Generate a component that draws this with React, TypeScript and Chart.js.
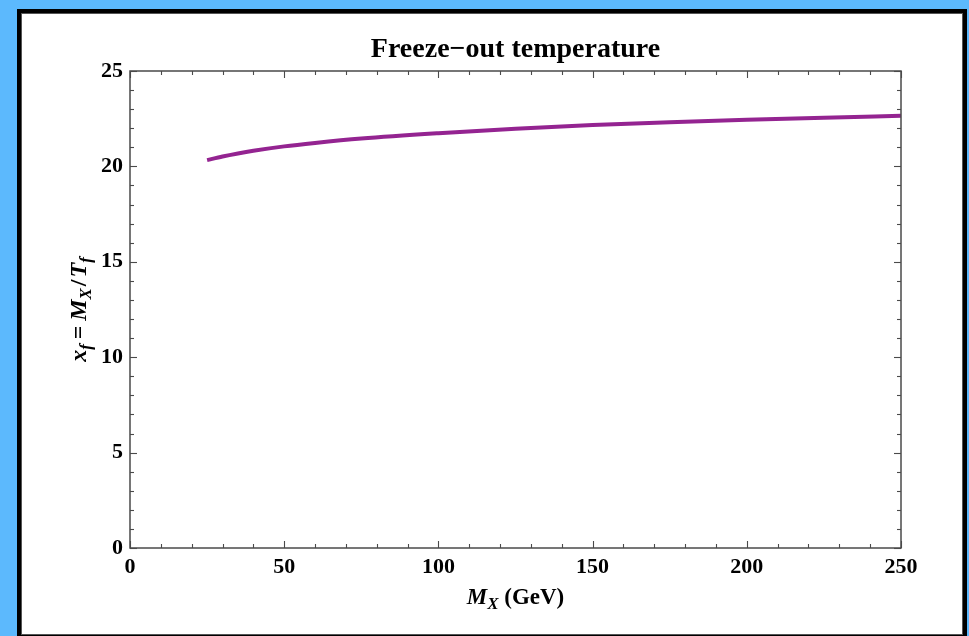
import React, { useEffect, useRef } from 'react';
import { Chart, registerables } from 'chart.js';

Chart.register(...registerables);

// ---- data ----
const massGeV = [25, 30, 35, 40, 50, 60, 75, 100, 125, 150, 175, 200, 225, 250];
const xfValues = [20.33, 20.52, 20.68, 20.82, 21.05, 21.23, 21.46, 21.74, 21.97, 22.17, 22.31, 22.44, 22.55, 22.65];
const xTickLabels = ['0', '50', '100', '150', '200', '250'];
const yTickLabels = ['0', '5', '10', '15', '20', '25'];
const xRange = [0, 250];
const yRange = [0, 25];
const xMajorStep = 50;
const xMinorStep = 10;
const yMajorStep = 5;
const yMinorStep = 1;
const chartTitle = 'Freeze\u2212out temperature';

const SERIF = '"Liberation Serif", "Times New Roman", serif';
const CURVE_COLOR = '#942491';
const FRAME_COLOR = '#4a4a4a';

type Seg = { t: string; italic?: boolean; sub?: boolean };

function drawRich(ctx: CanvasRenderingContext2D, segs: Seg[], cx: number, baseline: number, size: number) {
  const subSize = Math.round(size * 0.72);
  const fontFor = (s: Seg) => `${s.italic ? 'italic ' : ''}bold ${s.sub ? subSize : size}px ${SERIF}`;
  let total = 0;
  const widths = segs.map((s) => {
    ctx.font = fontFor(s);
    const w = ctx.measureText(s.t).width;
    total += w;
    return w;
  });
  let x = cx - total / 2;
  ctx.textAlign = 'left';
  ctx.textBaseline = 'alphabetic';
  ctx.fillStyle = '#000';
  segs.forEach((s, i) => {
    ctx.font = fontFor(s);
    ctx.fillText(s.t, x, baseline + (s.sub ? size * 0.22 : 0));
    x += widths[i];
  });
}

const xTitleSegs: Seg[] = [
  { t: 'M', italic: true },
  { t: 'X', italic: true, sub: true },
  { t: ' (GeV)' },
];
const yTitleSegs: Seg[] = [
  { t: 'x', italic: true },
  { t: 'f', italic: true, sub: true },
  { t: '\u2009=\u2009' },
  { t: 'M', italic: true },
  { t: 'X', italic: true, sub: true },
  { t: '\u200A/\u200A' },
  { t: 'T', italic: true },
  { t: 'f', italic: true, sub: true },
];

const framePlugin = {
  id: 'mmaFrame',
  afterDraw(chart: any) {
    const { ctx, chartArea: a, scales } = chart;
    const xs = scales.x;
    const ys = scales.y;
    ctx.save();
    ctx.strokeStyle = FRAME_COLOR;
    ctx.lineWidth = 1.5;
    ctx.strokeRect(a.left, a.top, a.right - a.left, a.bottom - a.top);
    ctx.lineWidth = 1.1;
    const seg = (x1: number, y1: number, x2: number, y2: number) => {
      ctx.beginPath();
      ctx.moveTo(x1, y1);
      ctx.lineTo(x2, y2);
      ctx.stroke();
    };
    for (let v = xRange[0]; v <= xRange[1] + 1e-9; v += xMinorStep) {
      const major = Math.abs(v % xMajorStep) < 1e-9;
      const len = major ? 7 : 4;
      const px = Math.round(xs.getPixelForValue(v)) + 0.5;
      seg(px, a.bottom, px, a.bottom - len);
      seg(px, a.top, px, a.top + len);
    }
    for (let v = yRange[0]; v <= yRange[1] + 1e-9; v += yMinorStep) {
      const major = Math.abs(v % yMajorStep) < 1e-9;
      const len = major ? 7 : 4;
      const py = Math.round(ys.getPixelForValue(v)) + 0.5;
      seg(a.left, py, a.left + len, py);
      seg(a.right, py, a.right - len, py);
    }
    const cx = (a.left + a.right) / 2;
    // title
    ctx.fillStyle = '#000';
    ctx.font = `bold 28px ${SERIF}`;
    ctx.textAlign = 'center';
    ctx.textBaseline = 'alphabetic';
    ctx.fillText(chartTitle, cx, 43);
    // axis titles
    drawRich(ctx, xTitleSegs, cx, a.bottom + 56, 23);
    ctx.save();
    ctx.translate(64, (a.top + a.bottom) / 2);
    ctx.rotate(-Math.PI / 2);
    drawRich(ctx, yTitleSegs, 0, 0, 24);
    ctx.restore();
    ctx.restore();
  },
};

export default function App() {
  const canvasRef = useRef<HTMLCanvasElement | null>(null);

  useEffect(() => {
    document.body.style.margin = '0';
    const canvas = canvasRef.current;
    if (!canvas) return;
    const tickFont = { family: SERIF, size: 22, weight: 'bold' as const };
    const chart = new Chart(canvas, {
      type: 'line',
      data: {
        datasets: [
          {
            label: 'x_f',
            data: massGeV.map((m, i) => ({ x: m, y: xfValues[i] })),
            borderColor: CURVE_COLOR,
            borderWidth: 4,
            pointRadius: 0,
            fill: false,
            cubicInterpolationMode: 'monotone',
            borderCapStyle: 'butt',
          },
        ],
      },
      options: {
        responsive: false,
        animation: false,
        devicePixelRatio: 1,
        layout: { padding: { left: 0, right: 60, top: 57, bottom: 0 } },
        plugins: {
          legend: { display: false },
          tooltip: { enabled: false },
          title: { display: false, text: chartTitle },
        },
        scales: {
          x: {
            type: 'linear',
            min: xRange[0],
            max: xRange[1],
            grid: { display: false, drawTicks: false },
            border: { display: false },
            ticks: {
              stepSize: xMajorStep,
              color: '#000',
              font: tickFont,
              padding: 6,
              maxRotation: 0,
              callback: (v: any) => {
                const i = Math.round((Number(v) - xRange[0]) / xMajorStep);
                return xTickLabels[i] ?? '';
              },
            },
            afterFit: (s: any) => {
              s.height = 83;
            },
          },
          y: {
            type: 'linear',
            min: yRange[0],
            max: yRange[1],
            grid: { display: false, drawTicks: false },
            border: { display: false },
            ticks: {
              stepSize: yMajorStep,
              color: '#000',
              font: tickFont,
              padding: 7,
              callback: (v: any) => {
                const i = Math.round((Number(v) - yRange[0]) / yMajorStep);
                return yTickLabels[i] ?? '';
              },
            },
            afterFit: (s: any) => {
              s.width = 108;
            },
          },
        },
      },
      plugins: [framePlugin],
    });
    return () => chart.destroy();
  }, []);

  return (
    <div
      style={{
        position: 'absolute',
        left: 0,
        top: 0,
        width: 969,
        height: 636,
        background: '#5cb9fd',
        overflow: 'hidden',
      }}
    >
      <div
        style={{
          position: 'absolute',
          left: 17,
          top: 9,
          width: 950,
          height: 630,
          boxSizing: 'border-box',
          border: '4px solid #000',
          background: '#fff',
        }}
      >
        <div
          style={{
            position: 'absolute',
            left: 0,
            top: 0,
            right: 0,
            bottom: 0,
            border: '1px solid #555',
          }}
        >
          <canvas ref={canvasRef} width={939} height={617} style={{ display: 'block' }} />
        </div>
      </div>
    </div>
  );
}
